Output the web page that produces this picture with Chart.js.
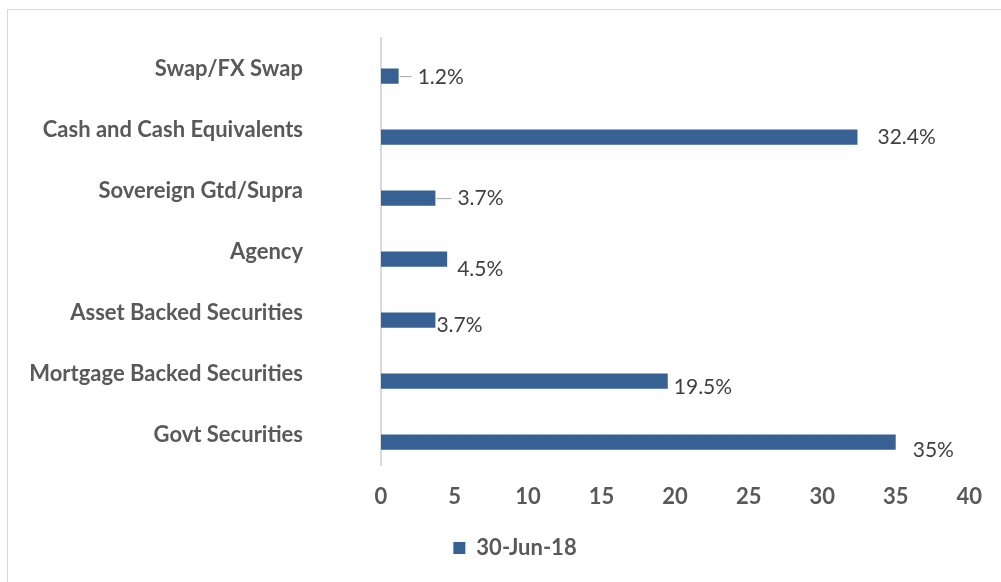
<!DOCTYPE html>
<html>
<head>
<meta charset="utf-8">
<script src="https://cdn.jsdelivr.net/npm/chart.js@4"></script>
<style>
  html, body { margin: 0; padding: 0; background: #fff; overflow: hidden; }
  #frame { position: absolute; left: 7px; top: 9px; width: 1100px; height: 700px; border: 1px solid #d9d9d9; }
  #myChart { position: absolute; left: 0; top: 0; }
</style>
</head>
<body>
<div id="frame"></div>
<canvas id="myChart" width="1001" height="582"></canvas>
<script>
const categories = ['Swap/FX Swap', 'Cash and Cash Equivalents', 'Sovereign Gtd/Supra', 'Agency',
    'Asset Backed Securities', 'Mortgage Backed Securities', 'Govt Securities'];
const values = [1.2, 32.4, 3.7, 4.5, 3.7, 19.5, 35];
const valueLabels = ['1.2%', '32.4%', '3.7%', '4.5%', '3.7%', '19.5%', '35%'];
const seriesName = '30-Jun-18';
const xTicks = [0, 5, 10, 15, 20, 25, 30, 35, 40];

const fontFamily = 'Lato, "Open Sans", sans-serif';

// labels sit where Excel put them: nudge [dx, dy] from the bar end, and whether a leader line is drawn
const valueLabelPlugin = {
    id: 'valueLabels',
    afterDatasetsDraw(chart, args, opts) {
        const c = chart.ctx;
        const meta = chart.getDatasetMeta(1);
        c.save();
        c.font = opts.font;
        c.fillStyle = opts.color;
        c.textBaseline = 'middle';
        c.textAlign = 'left';
        meta.data.forEach(function (bar, i) {
            const n = opts.nudges[i];
            const x = bar.x + n[0];
            const y = bar.y + n[1];
            if (n[2]) {
                c.strokeStyle = opts.leaderColor;
                c.lineWidth = 1;
                c.beginPath();
                c.moveTo(bar.x + 1, bar.y + 0.5);
                c.lineTo(x - 6, bar.y + 0.5);
                c.stroke();
            }
            c.fillText(valueLabels[i], x, y);
        });
        c.restore();
    }
};

// the legend in the original sits a bit right of centre
const legendShift = {
    id: 'legendShift',
    afterLayout(chart, args, opts) {
        chart.legend.left += opts.dx;
        chart.legend.right += opts.dx;
    }
};

const ctx = document.getElementById('myChart');

new Chart(ctx, {
    type: 'bar',
    data: {
        labels: categories,
        datasets: [{
            label: '',
            data: categories.map(() => null),
            backgroundColor: 'rgba(0,0,0,0)'
        }, {
            label: seriesName,
            data: values,
            backgroundColor: '#386193'
        }]
    },
    options: {
        indexAxis: 'y',
        responsive: false,
        animation: false,
        categoryPercentage: 0.5,
        barPercentage: 1.0,
        layout: { padding: { top: 38, right: 29, bottom: 13, left: 0 } },
        scales: {
            y: {
                grid: { display: false, drawTicks: false },
                border: { display: true, color: '#d9d9d9', width: 2 },
                ticks: {
                    color: '#595959',
                    font: { family: fontFamily, size: 22, weight: 'bold' },
                    padding: 78
                },
                afterFit(scale) {
                    scale.width = 381;
                    scale.paddingTop = 0;
                    scale.paddingBottom = 0;
                }
            },
            x: {
                min: 0,
                max: 40,
                afterBuildTicks(scale) { scale.ticks = xTicks.map(v => ({ value: v })); },
                grid: { display: false, drawTicks: false },
                border: { display: false },
                ticks: {
                    color: '#595959',
                    font: { family: fontFamily, size: 22, weight: 'bold' },
                    padding: 19
                },
                afterFit(scale) { scale.height = 66; }
            }
        },
        plugins: {
            legend: {
                position: 'bottom',
                labels: {
                    filter: item => item.text !== '',
                    boxWidth: 12,
                    boxHeight: 12,
                    color: '#595959',
                    font: { family: fontFamily, size: 22, weight: 'bold' },
                    padding: 6
                }
            },
            legendShift: { dx: 29 },
            tooltip: { enabled: false },
            valueLabels: {
                font: '21px ' + fontFamily,
                color: '#404040',
                leaderColor: '#a6a6a6',
                nudges: [[19, 1, true], [20, 0, false], [22, 0, true], [10, 10, false],
                    [1, 5, false], [6, 6, false], [17, 8, false]]
            }
        }
    },
    plugins: [valueLabelPlugin, legendShift]
});
</script>
</body>
</html>
